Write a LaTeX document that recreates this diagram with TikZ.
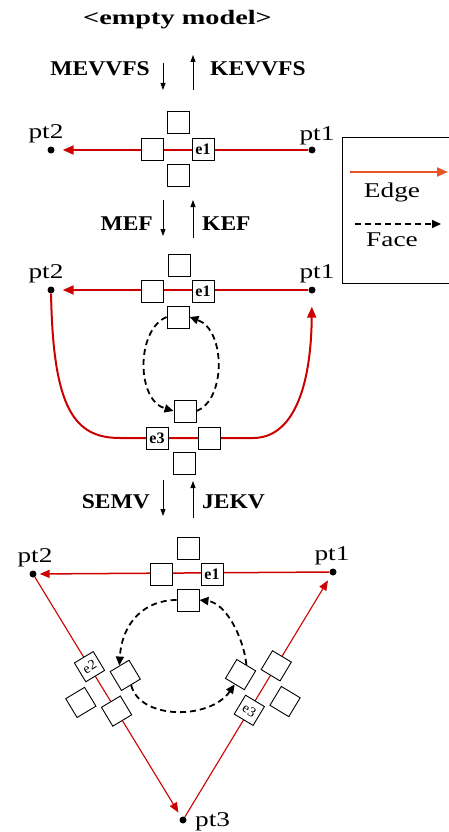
\documentclass[tikz,border=0pt]{standalone}
\usepackage{graphicx}
\usepackage{fontspec}
\setmainfont{Liberation Serif}
\usetikzlibrary{arrows.meta,calc}

\definecolor{edgered}{RGB}{204,0,0}
\definecolor{legendred}{RGB}{232,84,36}

\newcommand{\stretchtxt}[2]{\scalebox{#1}[1]{#2}}

\tikzset{
  ptdot/.style={circle, fill=black, inner sep=0pt, minimum size=7pt},
  ptlabel/.style={font=\fontsize{21}{24}\selectfont, inner sep=0pt, anchor=base},
  oplabel/.style={font=\fontsize{21}{24}\selectfont\bfseries, inner sep=0pt},
  sq/.style={draw=black, fill=white, line width=0.9pt, minimum size=22pt, inner sep=0pt,
    font=\fontsize{16}{18}\selectfont\bfseries},
  sqrot/.style={sq, font=\fontsize{14}{16}\selectfont},
  redge/.style={draw=edgered, line width=2pt, -{Triangle[length=11pt,width=9pt]}},
  thinedge/.style={redge, line width=1.1pt, -{Triangle[length=10pt,width=8pt]}},
  faceloop/.style={draw=black, line width=1.8pt, dash pattern=on 6pt off 4pt,
    -{Triangle[length=9pt,width=8pt]}},
  oparrow/.style={draw=black, line width=0.9pt, -{Triangle[length=7pt,width=5pt]}}
}

\begin{document}
\begin{tikzpicture}[x=1pt, y=-1pt]
  \useasboundingbox (0,0) rectangle (449,832);
  % titel
  \node[oplabel, anchor=base] (empty) at (177.5,25)
    {\stretchtxt{1.38}{\fontsize{20.5}{24}\selectfont <empty model>}};
  % operators 1
  \node[oplabel, anchor=base east] (mevvfs) at (150,76) {\stretchtxt{1.12}{MEVVFS}};
  \node[oplabel, anchor=base west] (kevvfs) at (210,76) {\stretchtxt{1.12}{KEVVFS}};
  \coordinate (m1a) at (163,63); \coordinate (m1b) at (163,90);
  \coordinate (k1a) at (193,90); \coordinate (k1b) at (193,55);
  \draw[oparrow] (m1a) -- (m1b);
  \draw[oparrow] (k1a) -- (k1b);
  % modell 1
  \node[ptdot] (a-pt2) at (51,150) {};
  \node[ptdot] (a-pt1) at (312,150) {};
  \node[ptlabel] (a-lpt2) at (46,139) {\stretchtxt{1.3}{pt2}};
  \node[ptlabel] (a-lpt1) at (317,140) {\stretchtxt{1.3}{pt1}};
  \draw[redge, shorten >=8pt] (a-pt1) -- (a-pt2);
  \node[sq] (a-t) at (178,122) {};
  \node[sq] (a-l) at (152,149) {};
  \node[sq] (a-e1) at (203,149) {e1};
  \node[sq] (a-b) at (178,175) {};
  % legende
  \draw[line width=0.9pt] (449,137) -- (342,137) -- (342,283) -- (449,283);
  \coordinate (legA) at (350,172); \coordinate (legB) at (448,172);
  \draw[redge, draw=legendred] (legA) -- (legB);
  \node[ptlabel] (ledge) at (392,197) {\stretchtxt{1.3}{Edge}};
  \coordinate (legC) at (355,224); \coordinate (legD) at (441,224);
  \draw[faceloop, line width=1.5pt] (legC) -- (legD);
  \node[ptlabel] (lface) at (392,246) {\stretchtxt{1.3}{Face}};
  % operators 2
  \node[oplabel, anchor=base east] (mef) at (153,230) {\stretchtxt{1.12}{MEF}};
  \node[oplabel, anchor=base west] (kef) at (202,230) {\stretchtxt{1.12}{KEF}};
  \coordinate (m2a) at (163,200); \coordinate (m2b) at (163,236);
  \coordinate (k2a) at (193,238); \coordinate (k2b) at (193,200);
  \draw[oparrow] (m2a) -- (m2b);
  \draw[oparrow] (k2a) -- (k2b);
  % modell 2
  \node[ptdot] (b-pt2) at (51,290) {};
  \node[ptdot] (b-pt1) at (312,290) {};
  \node[ptlabel] (b-lpt2) at (46,278) {\stretchtxt{1.3}{pt2}};
  \node[ptlabel] (b-lpt1) at (317,278) {\stretchtxt{1.3}{pt1}};
  \draw[redge, shorten >=8pt] (b-pt1) -- (b-pt2);
  \draw[redge, shorten >=13pt] (b-pt2) .. controls (53,410) and (75,438) .. (120,438)
    -- (253,438) .. controls (292,438) and (311,390) .. (b-pt1);
  \node[sq] (b-t) at (179,265) {};
  \node[sq] (b-l) at (152,291) {};
  \node[sq] (b-e1) at (203,291) {e1};
  \node[sq] (b-ft) at (178,317) {};
  \node[sq] (b-fb) at (185,411) {};
  \node[sq] (b-e3) at (157,438) {e3};
  \node[sq] (b-r) at (209,438) {};
  \node[sq] (b-b) at (184,463) {};
  \draw[faceloop] (b-ft.west) .. controls (136,330) and (136,400) .. (b-fb.west);
  \draw[faceloop] (b-fb.east) .. controls (226,400) and (226,330) .. (b-ft.east);
  % operators 3
  \node[oplabel, anchor=base east] (semv) at (150,508) {\stretchtxt{1.12}{SEMV}};
  \node[oplabel, anchor=base west] (jekv) at (202,508) {\stretchtxt{1.12}{JEKV}};
  \coordinate (m3a) at (163,480); \coordinate (m3b) at (163,516);
  \coordinate (k3a) at (193,518); \coordinate (k3b) at (193,481);
  \draw[oparrow] (m3a) -- (m3b);
  \draw[oparrow] (k3a) -- (k3b);
  % modell 3
  \node[ptdot] (c-pt2) at (33,574) {};
  \node[ptdot] (c-pt1) at (333,572) {};
  \node[ptdot] (c-pt3) at (183,820) {};
  \node[ptlabel] (c-lpt2) at (35,562) {\stretchtxt{1.3}{pt2}};
  \node[ptlabel] (c-lpt1) at (332,560) {\stretchtxt{1.3}{pt1}};
  \node[ptlabel, anchor=base west] (c-lpt3) at (195,826) {\stretchtxt{1.3}{pt3}};
  \draw[redge, line width=1.5pt, -{Triangle[length=10pt,width=8pt]}, shorten >=3pt]
    (c-pt1) -- (c-pt2);
  \draw[thinedge, shorten >=5pt] (c-pt2) -- (c-pt3);
  \draw[thinedge, shorten >=6pt] (c-pt3) -- (c-pt1);
  \node[sq] (c-t) at (188,548) {};
  \node[sq] (c-l) at (161,574) {};
  \node[sq] (c-e1) at (212,574) {e1};
  \node[sq] (c-b) at (188,600) {};
  % kreuz links und rechts
  \coordinate (lc) at ($(c-pt2)!0.467!(c-pt3)$);
  \coordinate (rc) at ($(c-pt3)!0.532!(c-pt1)$);
  \node[sqrot, rotate=31] (c-e2) at ($(lc)!26pt!(c-pt2)$) {e2};
  \node[sqrot, rotate=31] (c-ll) at ($(lc)!26pt!(c-pt3)$) {};
  \node[sqrot, rotate=31] (c-li) at ($(lc)!26pt!90:(c-pt3)$) {};
  \node[sqrot, rotate=31] (c-lo) at ($(lc)!26pt!-90:(c-pt3)$) {};
  \node[sqrot, rotate=-31] (c-e3) at ($(rc)!26pt!(c-pt3)$) {e3};
  \node[sqrot, rotate=-31] (c-ru) at ($(rc)!26pt!(c-pt1)$) {};
  \node[sqrot, rotate=-31] (c-ri) at ($(rc)!26pt!90:(c-pt1)$) {};
  \node[sqrot, rotate=-31] (c-ro) at ($(rc)!26pt!-90:(c-pt1)$) {};
  \draw[faceloop] (c-b.west) .. controls (145,600) and (122,622) .. (c-li.north);
  \draw[faceloop] (c-li.south) .. controls (140,720) and (210,720) .. (c-ri.south);
  \draw[faceloop] (c-ri.north) .. controls (243,635) and (225,603) .. (c-b.east);
\end{tikzpicture}
\end{document}
